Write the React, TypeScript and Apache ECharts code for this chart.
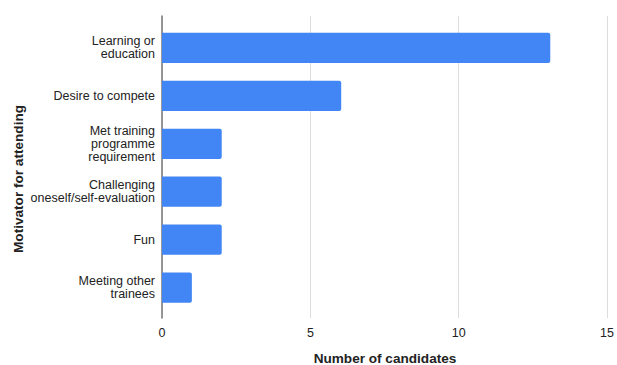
import React, { useEffect, useRef } from "react";
import * as echarts from "echarts";

const categories = [
  "Learning or\neducation",
  "Desire to compete",
  "Met training\nprogramme\nrequirement",
  "Challenging\noneself/self-evaluation",
  "Fun",
  "Meeting other\ntrainees",
];
const candidates = [13, 6, 2, 2, 2, 1];
const xTicks = { min: 0, max: 15, interval: 5 };
const xAxisTitle = "Number of candidates";
const yAxisTitle = "Motivator for attending";

const FONT = "'Liberation Sans', Arial, Helvetica, sans-serif";
const TEXT = "#222222";

export default function App() {
  const ref = useRef<HTMLDivElement>(null);
  useEffect(() => {
    if (!ref.current) return;
    const chart = echarts.init(ref.current, null, { renderer: "svg" });
    chart.setOption({
      animation: false,
      backgroundColor: "#ffffff",
      textStyle: { fontFamily: FONT },
      grid: [
        { left: 162, right: 7, top: 24, bottom: 53.5 },
        { left: 162, right: 7, top: 16, bottom: 47 },
      ],
      xAxis: [
        {
          gridIndex: 0,
          type: "value",
          min: xTicks.min,
          max: xTicks.max,
          interval: xTicks.interval,
          axisLine: { show: false },
          axisTick: { show: false },
          axisLabel: { show: false },
          splitLine: { show: false },
        },
        {
          gridIndex: 1,
          type: "value",
          min: xTicks.min,
          max: xTicks.max,
          interval: xTicks.interval,
          axisLine: { show: false },
          axisTick: { show: false },
          axisLabel: { color: TEXT, fontSize: 12.5, margin: 8, fontFamily: FONT },
          splitLine: { show: true, lineStyle: { color: "#dddddd", width: 1 } },
        },
      ],
      yAxis: [
        {
          gridIndex: 0,
          type: "category",
          inverse: true,
          data: categories,
          axisLine: { show: false },
          axisTick: { show: false },
          axisLabel: {
            color: TEXT,
            fontSize: 12.5,
            lineHeight: 13,
            margin: 7,
            align: "right",
            fontFamily: FONT,
          },
        },
        {
          gridIndex: 1,
          type: "category",
          data: [""],
          axisLine: { show: true, onZero: false, lineStyle: { color: "#777777", width: 1.5 } },
          axisTick: { show: false },
          axisLabel: { show: false },
          splitLine: { show: false },
        },
      ],
      graphic: [
        {
          type: "text",
          x: 385,
          y: 358,
          style: {
            text: xAxisTitle,
            fill: TEXT,
            font: `bold 13.6px ${FONT}`,
            align: "center",
            verticalAlign: "middle",
          },
        },
        {
          type: "text",
          x: 18,
          y: 179,
          rotation: Math.PI / 2,
          style: {
            text: yAxisTitle,
            fill: TEXT,
            font: `bold 13.6px ${FONT}`,
            align: "center",
            verticalAlign: "middle",
          },
        },
      ],
      series: [
        {
          type: "bar",
          xAxisIndex: 0,
          yAxisIndex: 0,
          data: candidates,
          barCategoryGap: "37%",
          itemStyle: { color: "#4285f4", borderRadius: [0, 2, 2, 0] },
        },
      ],
    });
    return () => chart.dispose();
  }, []);
  return (
    <div
      ref={ref}
      style={{ position: "fixed", left: 0, top: 0, width: 617, height: 365 }}
    />
  );
}
